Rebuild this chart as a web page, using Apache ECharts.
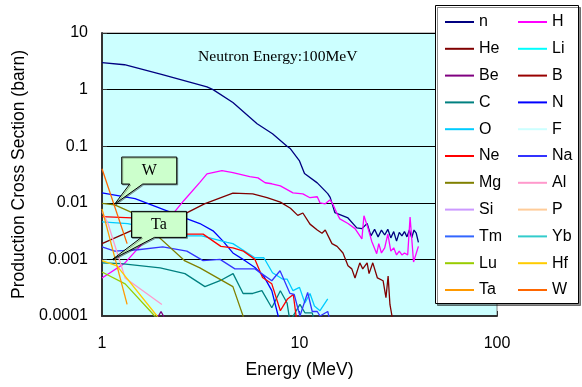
<!DOCTYPE html>
<html>
<head>
<meta charset="utf-8">
<script src="https://cdn.jsdelivr.net/npm/echarts@6/dist/echarts.min.js"></script>
<style>
  html, body { margin: 0; padding: 0; background: #fff; }
  #main { width: 582px; height: 387px; }
</style>
</head>
<body>
<div id="main"></div>
<script>
// tick labels
var xTickLabels = ['1', '10', '100'];
var yTickLabels = ['0.0001', '0.001', '0.01', '0.1', '1', '10'];

// species, in legend order
var speciesNames = ['n', 'H', 'He', 'Li', 'Be', 'B', 'C', 'N', 'O', 'F', 'Ne',
                    'Na', 'Mg', 'Al', 'Si', 'P', 'Tm', 'Yb', 'Lu', 'Hf', 'Ta', 'W'];

// [energy (MeV), cross section (barn)]
var nData = [[1,3.0],[1.3,2.75],[2,1.85],[3.4,1.12],[3.65,1.0],[4.6,0.59],[6.1,0.25],[7.3,0.166],
    [8.65,0.1],[9,0.09],[10,0.055],[10.6,0.033],[12.3,0.0225],[13.9,0.0145],[14.3,0.0125],[15.1,0.0067],
    [17.6,0.0054],[19.5,0.0036],[20.7,0.0035],[22,0.0043],[23,0.0026],[24,0.0034],[25,0.0025],[26,0.0033],
    [27,0.0027],[28,0.0034],[29,0.0024],[30,0.0031],[31,0.0021],[32,0.0030],[33,0.0026],[34,0.0031],
    [35,0.0025],[36,0.0033],[37,0.0024],[38,0.0033],[39,0.0029],[40,0.0020]];
var hData = [[1,0.00047],[1.3,0.00085],[1.6,0.0019],[2,0.0036],[2.6,0.011],[3.13,0.023],[3.4,0.0325],
    [4.05,0.037],[4.6,0.034],[5.6,0.029],[6.16,0.0276],[6.7,0.0226],[7.24,0.0217],[8,0.0199],[9.27,0.015],
    [10.4,0.0144],[11.3,0.0123],[12.3,0.0128],[12.7,0.01],[13.5,0.0096],[14.3,0.0113],[14.8,0.0092],
    [15.5,0.0064],[16,0.0052],[17.6,0.0043],[19.1,0.0035],[20.7,0.0023],[21.2,0.0059],[22.2,0.0036],
    [23.2,0.0021],[24.6,0.00126],[25.2,0.0019],[26,0.0013],[27,0.0016],[28,0.0028],[29,0.0014],[30,0.0016],
    [31,0.0012],[32,0.0014],[33,0.0012],[34,0.0013],[35.3,0.0012],[36.3,0.0056],[37.8,0.0009],[40,0.0017]];
var heData = [[1,0.0019],[1.4,0.0032],[2.7,0.0067],[3.3,0.0096],[4.6,0.0148],[5.8,0.0144],[6.85,0.0123],
    [8,0.0103],[9,0.008],[9.8,0.006],[10.4,0.0066],[11.3,0.0042],[12.3,0.0033],[13,0.0029],[13.5,0.0033],
    [14.6,0.0019],[15.5,0.0017],[16.6,0.0013],[17.6,0.00077],[18.4,0.00068],[19.1,0.00047],[20.2,0.00087],
    [20.9,0.00068],[22,0.00087],[22.5,0.00056],[23.5,0.00087],[24.8,0.00047],[26.5,0.00042],[27.4,0.00021],
    [28.1,0.00051],[28.7,0.00016],[29.4,0.0001],[30,0.00004]];
var liData = [];
var beData = [[1.9,0.00009],[1.99,0.00012],[2.08,0.00009]];
var bData = [];
var cData = [[1,0.00087],[1.25,0.00084],[1.97,0.00071],[2.63,0.00056],[3.32,0.00033],[3.96,0.00042],
    [4.61,0.00056],[5.18,0.00025],[5.8,0.00025],[6.45,0.00028],[7.24,0.00014],[8,0.00028],[8.65,0.00017],
    [8.95,0.00008],[10.05,0.00016],[10.65,0.000114],[11.6,0.000114],[12,0.00007]];
var nitData = [[1,0.015],[1.47,0.0118],[2.2,0.0069],[2.7,0.0052],[3.13,0.0043],[3.65,0.0032],[4.1,0.0021],
    [4.6,0.0013],[5.3,0.00095],[5.95,0.00072],[6.6,0.0005],[7.24,0.00028],[7.8,0.0001],[8.1,0.00005]];
var oData = [[1,0.0046],[1.35,0.0043],[2.7,0.0026],[3.2,0.0026],[4.3,0.002],[4.6,0.0019],[5.95,0.00107],
    [6.6,0.00107],[7.3,0.00058],[8.2,0.00045],[8.65,0.00045],[9.27,0.00028],[10,0.00032],[10.65,0.00017],
    [11.3,0.00025],[11.9,0.00015],[12.7,0.000124],[13.9,0.0002]];
var fData = [];
var neData = [[1,0.0057],[1.42,0.0054],[2.7,0.0028],[3.25,0.0028],[4,0.0017],[4.6,0.0016],[5.2,0.0014],
    [5.95,0.001],[6.5,0.00048],[7.24,0.00037],[8,0.000124],[8.7,0.0002],[9.3,0.00024],[9.8,0.00006]];
var naData = [[1,0.00167],[1.16,0.0014],[1.52,0.00148],[2.03,0.00167],[2.69,0.0014],[3.25,0.00095],
    [3.96,0.001],[4.71,0.00068],[5.95,0.00068],[7.24,0.00042],[7.97,0.00063],[8.95,0.00025],[9.4,0.00024],
    [10.05,0.0001],[11,0.00026],[11.6,0.00012],[12.3,0.00012],[12.7,0.0001],[13.9,0.00012],[14.3,0.00008]];
var mgData = [[1,0.0098],[1.16,0.0092],[1.42,0.0067],[2.63,0.00094],[3.13,0.00071],[4.6,0.00033],
    [5.18,0.0001],[5.4,0.00005]];
var alData = [[1,0.007],[1.07,0.0044],[1.31,0.00047],[2.01,0.00016]];
var siData = [];
var pData = [];
var tmData = [];
var ybData = [];
var luData = [[1,0.0006],[1.31,0.00037],[1.85,0.0001],[1.95,0.00007]];
var hfData = [[1,0.00095],[1.19,0.00077],[1.9,0.0001],[2,0.00007]];
var taData = [[1,0.0078],[1.34,0.00016]];
var wData = [[1,0.04],[1.34,0.0019]];

var speciesData = [nData, hData, heData, liData, beData, bData, cData, nitData, oData, fData, neData,
                   naData, mgData, alData, siData, pData, tmData, ybData, luData, hfData, taData, wData];

var speciesColors = ['#000080', '#FF00FF', '#800000', '#00FFFF', '#800080', '#990000', '#008080', '#0000FF',
                     '#00CCFF', '#CCFFFF', '#FF0000', '#3333FF', '#808000', '#FF99CC', '#CC99FF', '#FFCC99',
                     '#3366FF', '#33CCCC', '#99CC00', '#FFCC00', '#FF9900', '#FF6600'];

var sans = 'Liberation Sans, Arial, sans-serif';
var serif = 'Liberation Serif, Times New Roman, serif';

function log10(v) { return Math.log(v) / Math.LN10; }

var chart = echarts.init(document.getElementById('main'));

var seriesList = [];
var legendLeft = [], legendRight = [];
for (var i = 0; i < speciesNames.length; i++) {
    seriesList.push({
        name: speciesNames[i],
        type: 'line',
        data: speciesData[i],
        symbol: 'none',
        clip: true,
        itemStyle: { color: speciesColors[i] },
        lineStyle: { color: speciesColors[i], width: 1.3 }
    });
    if (i % 2 === 0) legendLeft.push(speciesNames[i]);
    else legendRight.push(speciesNames[i]);
}

var legendCommon = {
    orient: 'vertical',
    top: 14,
    padding: 0,
    icon: 'rect',
    itemWidth: 29,
    itemHeight: 2,
    itemGap: 10.8,
    selectedMode: false,
    z: 20,
    textStyle: { fontFamily: sans, fontSize: 16, lineHeight: 16, color: '#000' }
};

var option = {
    animation: false,
    title: {
        text: 'Neutron Energy:100MeV',
        left: 198,
        top: 49,
        padding: 0,
        textStyle: { fontFamily: serif, fontSize: 15.6, fontWeight: 'normal', color: '#000' }
    },
    legend: [
        echarts.util.extend({ data: legendLeft, left: 445 }, legendCommon),
        echarts.util.extend({ data: legendRight, left: 518 }, legendCommon)
    ],
    grid: {
        left: 102, top: 33, right: 85, bottom: 71,
        show: true,
        backgroundColor: '#CCFFFF',
        borderColor: '#808080',
        borderWidth: 1
    },
    xAxis: {
        type: 'log',
        logBase: 10,
        min: 1,
        max: 100,
        name: 'Energy (MeV)',
        nameLocation: 'middle',
        nameGap: 45,
        nameTextStyle: { fontFamily: sans, fontSize: 17.5, color: '#000' },
        axisLine: { lineStyle: { color: '#333', width: 2 } },
        axisTick: { inside: true, length: 5, lineStyle: { color: '#333' } },
        minorTick: { show: false },
        splitLine: { show: false },
        axisLabel: {
            margin: 20,
            fontFamily: sans, fontSize: 16, color: '#000',
            formatter: function (v) { return xTickLabels[Math.round(log10(v))] || ''; }
        }
    },
    yAxis: {
        type: 'log',
        logBase: 10,
        min: 0.0001,
        max: 10,
        name: 'Production Cross Section (barn)',
        nameLocation: 'middle',
        nameGap: 72,
        nameTextStyle: { fontFamily: sans, fontSize: 17.5, color: '#000' },
        axisLine: { show: true, lineStyle: { color: '#333', width: 2 } },
        axisTick: { show: true, inside: true, length: 5, lineStyle: { color: '#333' } },
        minorTick: { show: false },
        splitLine: { show: true, lineStyle: { color: '#000', width: 1 } },
        axisLabel: {
            margin: 14,
            fontFamily: sans, fontSize: 16, color: '#000',
            formatter: function (v) { return yTickLabels[Math.round(log10(v)) + 4] || ''; }
        }
    },
    series: seriesList
};

chart.setOption(option);

// callouts pointing at the W and Ta curves
function callout(label, at, box, base) {
    var p = chart.convertToPixel({ gridIndex: 0 }, at);
    var tx = p[0], ty = p[1];
    var L = tx + box[0], T = ty + box[1], R = L + box[2], B = T + box[3];
    return {
        type: 'group',
        z: 15,
        children: [{
            type: 'polygon',
            z: 15,
            shape: { points: [[L, T], [R, T], [R, B], [tx + base[1], B], [tx, ty], [tx + base[0], B], [L, B]] },
            style: {
                fill: '#CCFFCC', stroke: '#000', lineWidth: 1,
                shadowColor: 'rgba(0,0,0,0.3)', shadowOffsetX: 1, shadowOffsetY: 1
            }
        }, {
            type: 'text',
            z: 16,
            style: {
                text: label, x: (L + R) / 2, y: (T + B) / 2,
                align: 'center', verticalAlign: 'middle',
                font: '16px ' + serif, fill: '#000'
            }
        }]
    };
}

chart.setOption({
    graphic: {
        elements: [{
            type: 'rect',
            z: 10,
            shape: { x: 435.5, y: 5.5, width: 143, height: 298 },
            style: {
                fill: '#fff', stroke: '#000', lineWidth: 1,
                shadowColor: 'rgba(0,0,0,0.45)', shadowOffsetX: 2, shadowOffsetY: 2
            }
        },
        callout('W', [1.16, 0.0095], [7, -47, 55, 27], [15, 28]),
        callout('Ta', [1.13, 0.001], [19, -48, 55, 26], [29, 42])]
    }
});
</script>
</body>
</html>
